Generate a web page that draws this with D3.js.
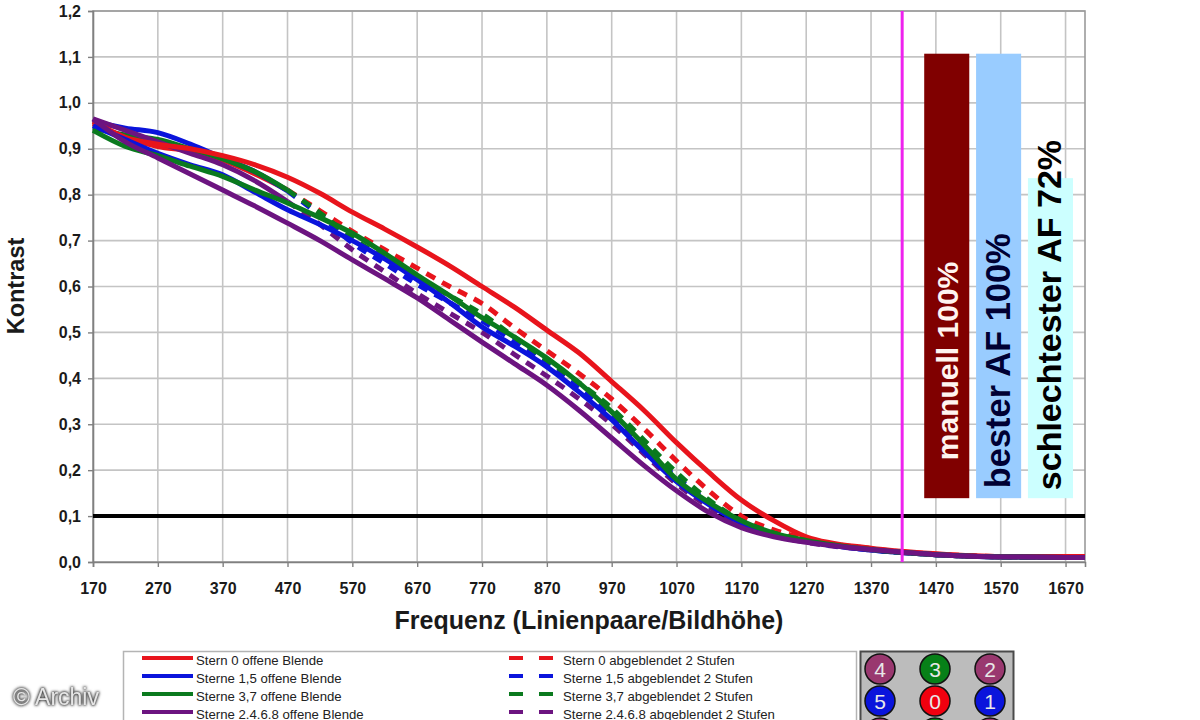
<!DOCTYPE html>
<html>
<head>
<meta charset="utf-8">
<script src="https://cdnjs.cloudflare.com/ajax/libs/d3/7.8.5/d3.min.js"></script>
<style>
	html, body { margin: 0; padding: 0; background: #fff; overflow: hidden; }
	text { font-family: "Liberation Sans", Arial, sans-serif; }
</style>
</head>
<body>
<div id="viz"></div>
<script>
const FREQS = [170, 220, 270, 320, 370, 420, 470, 520, 570, 620, 670, 720, 770, 820, 870, 920, 970, 1020, 1070, 1120, 1170, 1220, 1270, 1370, 1470, 1570, 1670, 1700]

const RED_OPEN = [.96, .925, .91, .90, .885, .865, .838, .803, .762, .725, .686, .645, .60, .555, .505, .455, .393, .33, .26, .195, .135, .09, .055, .03, .018, .012, .012, .012]
const BLUE_OPEN = [.95, .92, .89, .865, .843, .805, .767, .735, .70, .66, .615, .565, .512, .47, .425, .37, .31, .24, .175, .125, .085, .06, .045, .026, .016, .011, .010, .010]
const GREEN_OPEN = [.94, .905, .885, .862, .84, .81, .782, .75, .716, .672, .625, .58, .532, .49, .444, .39, .327, .255, .18, .13, .09, .063, .047, .027, .016, .011, .010, .010]
const PURPLE_OPEN = [.965, .915, .88, .845, .81, .775, .738, .70, .658, .617, .575, .527, .479, .432, .385, .33, .27, .21, .155, .108, .075, .055, .043, .027, .016, .011, .010, .010]

const RED_STOPPED = [.955, .925, .905, .895, .875, .845, .81, .765, .72, .68, .64, .60, .563, .51, .46, .41, .355, .29, .22, .155, .10, .07, .05, .029, .017, .012, .011, .011]
const BLUE_STOPPED = [.96, .945, .935, .91, .88, .85, .808, .755, .695, .65, .605, .565, .525, .48, .43, .38, .32, .25, .185, .13, .085, .06, .045, .026, .016, .011, .010, .010]
const GREEN_STOPPED = [.945, .93, .92, .90, .878, .85, .81, .76, .705, .662, .62, .58, .54, .49, .44, .39, .335, .265, .195, .135, .09, .063, .047, .027, .016, .011, .010, .010]
const PURPLE_STOPPED = [.965, .94, .915, .89, .865, .83, .785, .735, .68, .632, .585, .542, .50, .452, .405, .355, .30, .235, .17, .12, .08, .057, .043, .026, .016, .011, .010, .010]

const X_TICKS = [170, 270, 370, 470, 570, 670, 770, 870, 970, 1070, 1170, 1270, 1370, 1470, 1570, 1670]
const Y_TICKS = [0, .1, .2, .3, .4, .5, .6, .7, .8, .9, 1, 1.1, 1.2]

const THRESHOLD = 0.1
const MARKER_FREQ = 1418

const BAR_LABELS = ['manuell 100%', 'bester AF 100%', 'schlechtester AF 72%']
const BAR_START = [1452, 1532, 1612]
const BAR_END = [1521.5, 1601.5, 1681.5]
const BAR_TOP = [1.107, 1.107, 0.836]
const BAR_BOTTOM = [0.139, 0.139, 0.139]

const LEGEND_OPEN = ['Stern 0 offene Blende', 'Sterne 1,5 offene Blende', 'Sterne 3,7 offene Blende', 'Sterne 2.4.6.8 offene Blende']
const LEGEND_STOPPED = ['Stern 0 abgeblendet 2 Stufen', 'Sterne 1,5 abgeblendet 2 Stufen', 'Sterne 3,7 abgeblendet 2 Stufen', 'Sterne 2.4.6.8 abgeblendet 2 Stufen']

const STAR_LABELS = ['4', '3', '2', '5', '0', '1', '', '', '']

const RED = '#e8141c'
const BLUE = '#0a14dc'
const GREEN = '#0a7a1e'
const PURPLE = '#6c1480'
const PINK = '#99386f'
const SERIES_COLORS = [RED, BLUE, GREEN, PURPLE]
const STAR_COLORS = [PINK, '#078018', PINK, BLUE, '#f0000f', BLUE, PINK, '#078018', PINK]

const WIDTH = 1200
const HEIGHT = 720
const LEFT = 93
const RIGHT = 1085
const TOP = 11
const BOTTOM = 562

const svg = d3
	.select('#viz')
	.append('svg')
	.attr('width', WIDTH)
	.attr('height', HEIGHT)
	.style('display', 'block')

const x = d3.scaleLinear().domain([170, 1700]).range([LEFT, RIGHT])
const y = d3.scaleLinear().domain([0, 1.2]).range([BOTTOM, TOP])

const comma = (v, digits) => d3.format(digits)(v).replace('.', ',')

// grid
svg.append('g')
	.selectAll('line')
	.data(X_TICKS.slice(1))
	.enter()
	.append('line')
	.attr('x1', (d) => x(d))
	.attr('x2', (d) => x(d))
	.attr('y1', TOP)
	.attr('y2', BOTTOM)
	.attr('stroke', '#c4c4c4')
	.attr('stroke-width', 1.6)

svg.append('g')
	.selectAll('line')
	.data(Y_TICKS.slice(1))
	.enter()
	.append('line')
	.attr('x1', LEFT)
	.attr('x2', RIGHT)
	.attr('y1', (d) => y(d))
	.attr('y2', (d) => y(d))
	.attr('stroke', '#c4c4c4')
	.attr('stroke-width', 1.6)

svg.append('rect')
	.attr('x', LEFT)
	.attr('y', TOP)
	.attr('width', RIGHT - LEFT)
	.attr('height', BOTTOM - TOP)
	.attr('fill', 'none')
	.attr('stroke', '#9a9a9a')
	.attr('stroke-width', 1.6)

// axes
const x_axis = svg
	.append('g')
	.attr('transform', `translate(0, ${BOTTOM})`)
	.call(d3.axisBottom(x).tickValues(X_TICKS).tickFormat(d3.format('d')).tickSize(5).tickPadding(16))
const y_axis = svg
	.append('g')
	.attr('transform', `translate(${LEFT}, 0)`)
	.call(d3.axisLeft(y).tickValues(Y_TICKS).tickFormat((d) => comma(d, '.1f')).tickSize(5).tickPadding(7))

for (let axis of [x_axis, y_axis]) {
	axis.select('.domain').attr('stroke', '#808080').attr('stroke-width', 1.6)
	axis.selectAll('.tick line').attr('stroke', '#808080').attr('stroke-width', 1.4)
	axis.selectAll('.tick text')
		.attr('fill', '#1a1a1a')
		.style('font-family', '"Liberation Sans", Arial, sans-serif')
		.style('font-size', '16px')
		.style('font-weight', 'bold')
}

svg.append('text')
	.attr('x', 589)
	.attr('y', 629)
	.attr('text-anchor', 'middle')
	.attr('fill', '#1a1a1a')
	.style('font-size', '25px')
	.style('font-weight', 'bold')
	.text('Frequenz (Linienpaare/Bildhöhe)')

svg.append('text')
	.attr('transform', 'translate(24, 286) rotate(-90)')
	.attr('text-anchor', 'middle')
	.attr('fill', '#1a1a1a')
	.style('font-size', '23.5px')
	.style('font-weight', 'bold')
	.text('Kontrast')

// bars with their labels
const bars = svg
	.append('g')
	.selectAll('rect')
	.data(BAR_LABELS)
	.enter()
	.append('rect')
	.attr('x', (d, i) => x(BAR_START[i]))
	.attr('width', (d, i) => x(BAR_END[i]) - x(BAR_START[i]))
	.attr('y', (d, i) => y(BAR_TOP[i]))
	.attr('height', (d, i) => y(BAR_BOTTOM[i]) - y(BAR_TOP[i]))
	.attr('fill', (d, i) => ['#800000', '#99ccff', '#ccffff'][i])

svg.append('g')
	.selectAll('text')
	.data(BAR_LABELS)
	.enter()
	.append('text')
	.attr('transform', (d, i) => {
		const cx = (x(BAR_START[i]) + x(BAR_END[i])) / 2 + 11
		const bottom = y(BAR_BOTTOM[i]) - [38, 10, 8][i]
		return `translate(${cx}, ${bottom}) rotate(-90)`
	})
	.attr('fill', (d, i) => ['#fff4f0', '#000033', '#000000'][i])
	.style('font-size', (d, i) => [30, 34.4, 34][i] + 'px')
	.style('font-weight', 'bold')
	.text((d) => d)

// threshold and marker
svg.append('line')
	.attr('x1', LEFT)
	.attr('x2', RIGHT)
	.attr('y1', y(THRESHOLD))
	.attr('y2', y(THRESHOLD))
	.attr('stroke', '#000')
	.attr('stroke-width', 4)

// curves
const line = d3
	.line()
	.x((d) => x(d[0]))
	.y((d) => y(d[1]))
	.curve(d3.curveMonotoneX)

const pairs = (values) => FREQS.map((f, i) => [f, values[i]])

const curves = svg.append('g').attr('fill', 'none').attr('stroke-linecap', 'butt')

const stopped_series = [RED_STOPPED, BLUE_STOPPED, GREEN_STOPPED, PURPLE_STOPPED]
stopped_series.forEach((values, i) => {
	const points = pairs(values)
	// the dense low frequency part closes up into a solid line
	curves.append('path')
		.attr('d', line(points.filter((p) => p[0] <= 470)))
		.attr('stroke', SERIES_COLORS[i])
		.attr('stroke-width', 5)
	curves.append('path')
		.attr('d', line(points.filter((p) => p[0] >= 470)))
		.attr('stroke', SERIES_COLORS[i])
		.attr('stroke-width', 5)
		.attr('stroke-dasharray', '10 8')
})

const open_series = [RED_OPEN, BLUE_OPEN, GREEN_OPEN, PURPLE_OPEN]
open_series.forEach((values, i) => {
	curves.append('path')
		.attr('d', line(pairs(values)))
		.attr('stroke', SERIES_COLORS[i])
		.attr('stroke-width', 5)
})

svg.append('line')
	.attr('x1', x(MARKER_FREQ))
	.attr('x2', x(MARKER_FREQ))
	.attr('y1', TOP)
	.attr('y2', BOTTOM)
	.attr('stroke', '#ee22ee')
	.attr('stroke-width', 3)

// legend box, runs off the bottom of the picture
svg.append('rect')
	.attr('x', 123.5)
	.attr('y', 651.5)
	.attr('width', 733)
	.attr('height', 90)
	.attr('fill', '#fff')
	.attr('stroke', '#b4b4b4')
	.attr('stroke-width', 1.5)

const legend_y = d3.scalePoint().domain(d3.range(4)).range([660, 714])

const legend = svg.append('g').style('font-size', '13.2px').attr('fill', '#222')

LEGEND_OPEN.forEach((label, i) => {
	legend.append('line')
		.attr('x1', 142)
		.attr('x2', 193)
		.attr('y1', legend_y(i) - 2)
		.attr('y2', legend_y(i) - 2)
		.attr('stroke', SERIES_COLORS[i])
		.attr('stroke-width', 4)
	legend.append('text')
		.attr('x', 196)
		.attr('y', legend_y(i) + 4.5)
		.text(label)
})

LEGEND_STOPPED.forEach((label, i) => {
	legend.append('line')
		.attr('x1', 509)
		.attr('x2', 553)
		.attr('y1', legend_y(i) - 2)
		.attr('y2', legend_y(i) - 2)
		.attr('stroke', SERIES_COLORS[i])
		.attr('stroke-width', 4)
		.attr('stroke-dasharray', '14 16')
	legend.append('text')
		.attr('x', 563)
		.attr('y', legend_y(i) + 4.5)
		.text(label)
})

// star position panel
svg.append('rect')
	.attr('x', 860.5)
	.attr('y', 651.5)
	.attr('width', 153)
	.attr('height', 90)
	.attr('fill', '#bcbcbc')
	.attr('stroke', '#4a4a4a')
	.attr('stroke-width', 2)

const star_x = d3.scalePoint().domain(d3.range(3)).range([880, 990])
const star_y = d3.scalePoint().domain(d3.range(3)).range([669, 733])

const stars = svg
	.append('g')
	.selectAll('g')
	.data(STAR_LABELS)
	.enter()
	.append('g')
	.attr('transform', (d, i) => `translate(${star_x(i % 3)}, ${star_y(Math.floor(i / 3))})`)

stars.append('circle')
	.attr('r', 15)
	.attr('fill', (d, i) => STAR_COLORS[i])
	.attr('stroke', '#111')
	.attr('stroke-width', 1.5)

stars.append('text')
	.attr('y', 7.5)
	.attr('text-anchor', 'middle')
	.attr('fill', '#e8e8e8')
	.style('font-size', '21px')
	.text((d) => d)

// watermark
svg.append('text')
	.attr('x', 13)
	.attr('y', 705)
	.attr('fill', '#e6e6e6')
	.style('font-size', '23px')
	.style('filter', 'drop-shadow(0 0 1.5px #333) drop-shadow(0 0 1px #555)')
	.text('© Archiv')
</script>
</body>
</html>
